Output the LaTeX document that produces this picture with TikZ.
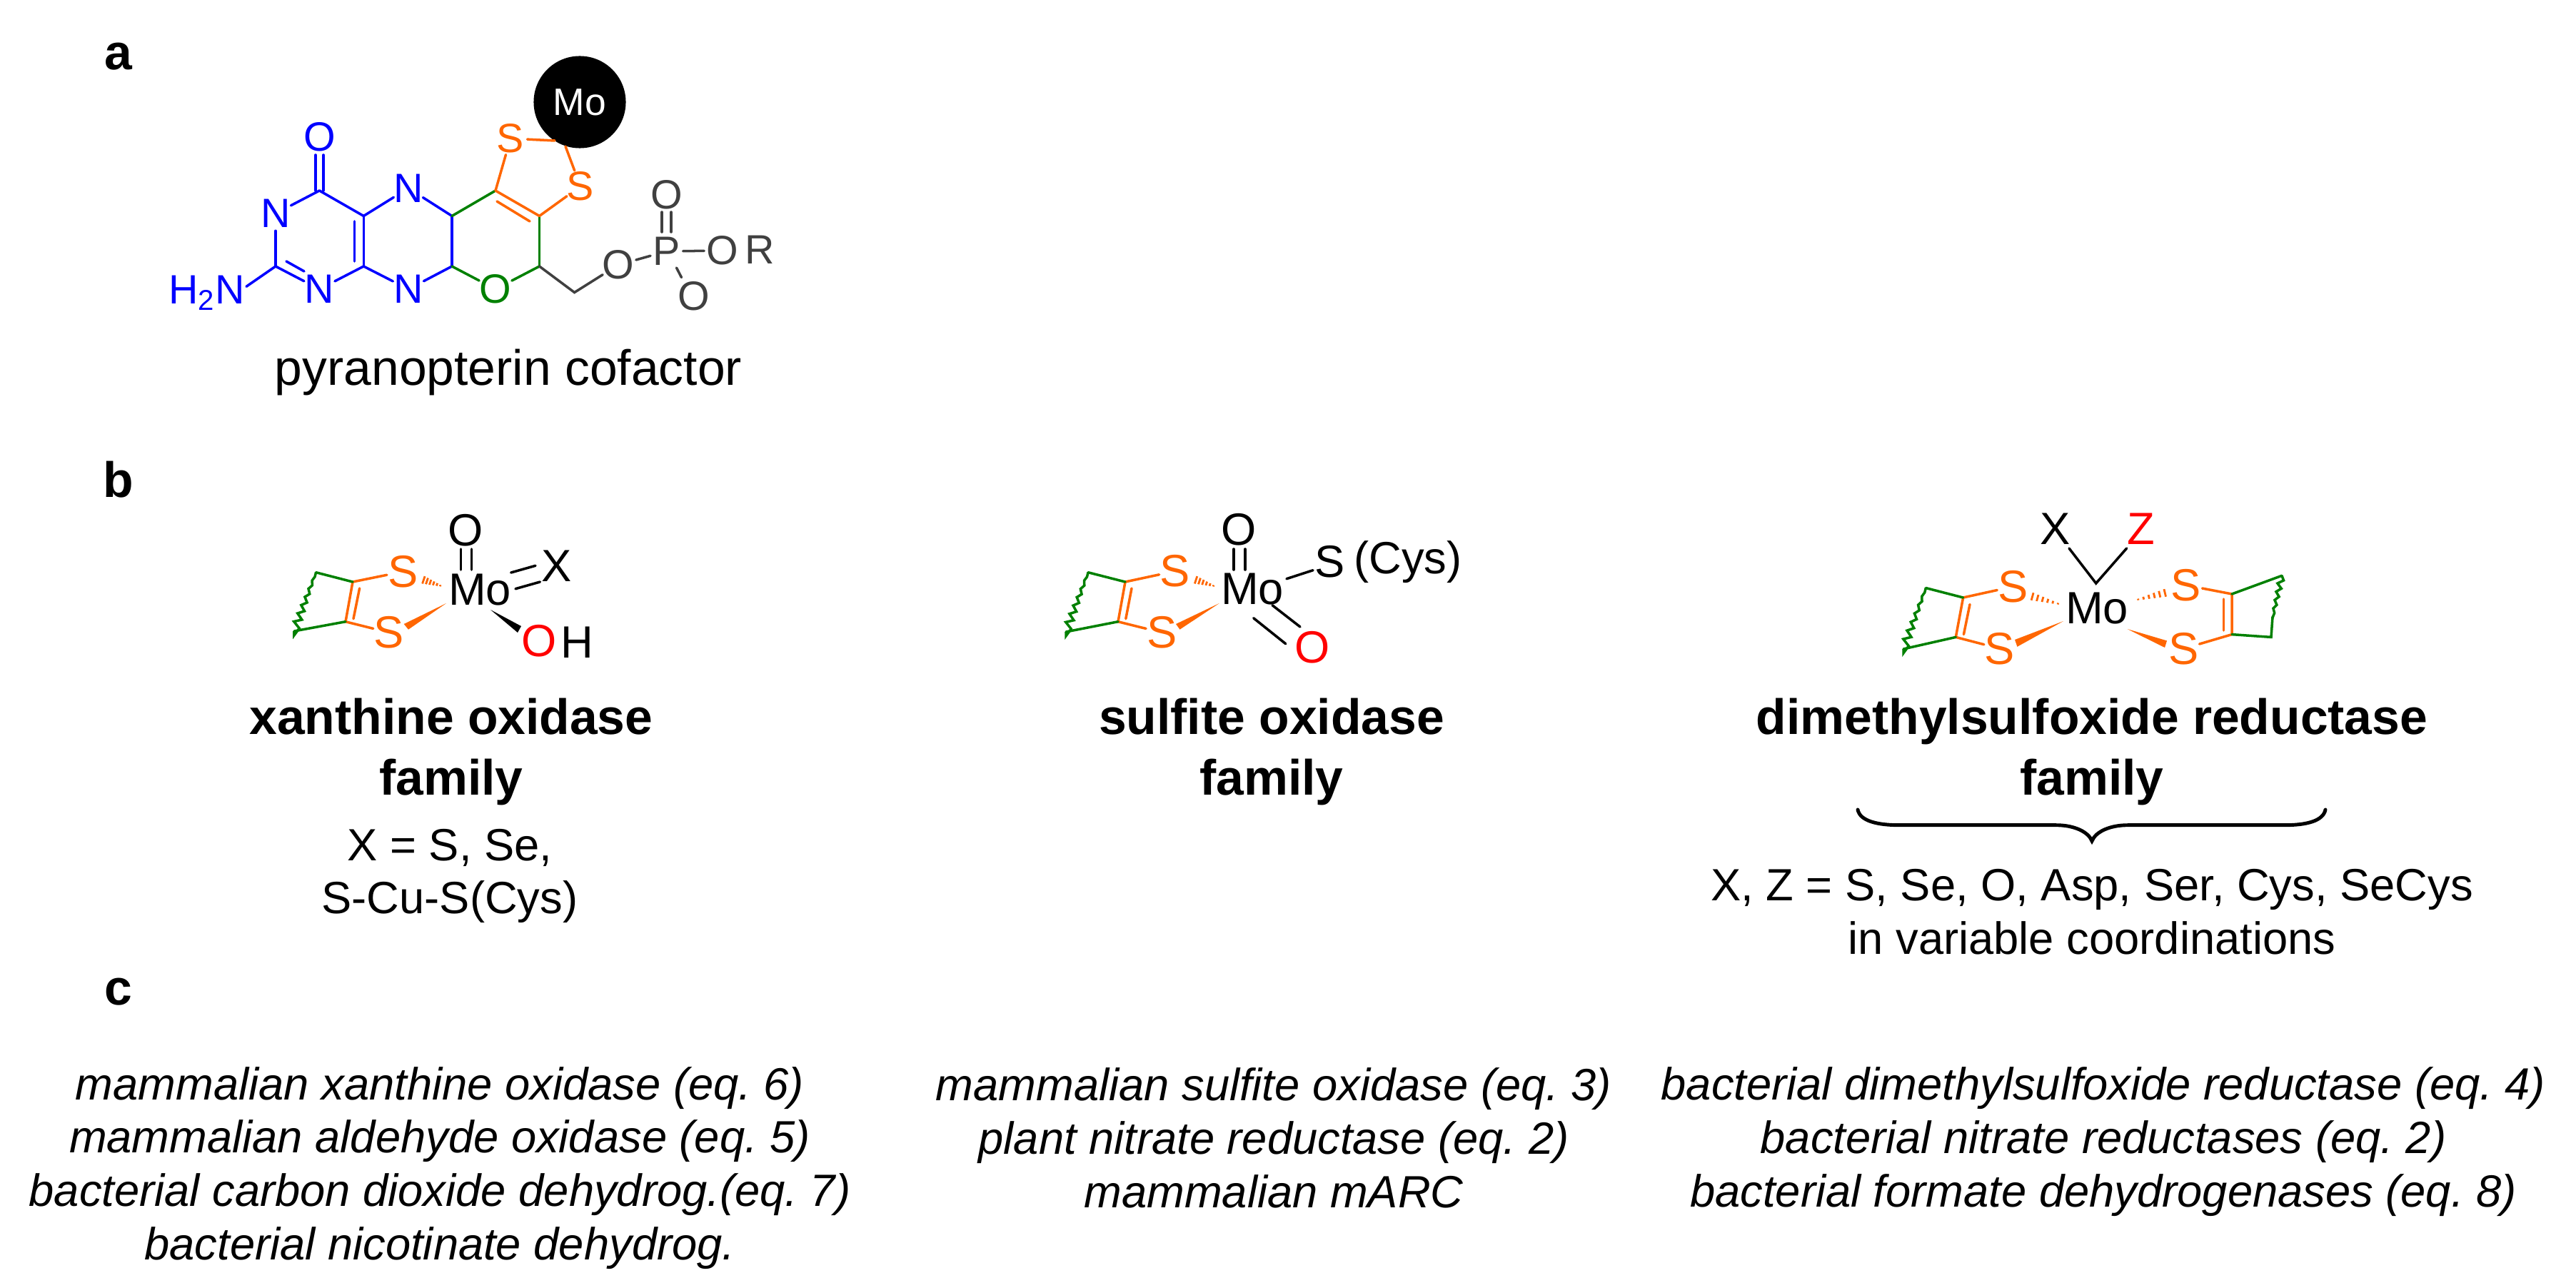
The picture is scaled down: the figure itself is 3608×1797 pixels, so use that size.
\documentclass[tikz,border=0pt]{standalone}
\usepackage{fontspec}
\setmainfont{Liberation Sans}
\usetikzlibrary{calc}
\definecolor{blueN}{HTML}{0000FF}
\definecolor{orangeS}{HTML}{FF6600}
\definecolor{greenC}{HTML}{008000}
\definecolor{redO}{HTML}{FF0000}
\definecolor{darkP}{HTML}{404040}
\tikzset{
  bond/.style={line width=1pt,line cap=round},
  atom/.style={circle,inner sep=0pt,outer sep=-1.2pt,font=\fontsize{16.3}{18}\selectfont},
  atomb/.style={circle,inner sep=0pt,outer sep=-2.2pt,font=\fontsize{18}{20}\selectfont},
  label/.style={inner sep=0pt,font=\fontsize{19.8}{23.9}\selectfont,align=center},
  note/.style={inner sep=0pt,font=\fontsize{18}{21.3}\selectfont,align=center},
  panel/.style={inner sep=0pt,font=\bfseries\fontsize{19.8}{23.9}\selectfont},
  family/.style={inner sep=0pt,font=\bfseries\fontsize{19.8}{23.9}\selectfont,align=center},
  enzyme/.style={inner sep=0pt,font=\itshape\fontsize{18}{21.3}\selectfont,align=center},
}
\newcommand{\hashbond}[2]{\foreach \i in {0,...,5}{\pgfmathsetmacro{\tt}{(\i+0.5)/6}\pgfmathsetmacro{\hw}{0.3+\i*0.25}\draw[orangeS,line width=0.8pt] ($(#1)!\tt!(#2)!\hw pt!90:(#2)$) -- ($(#1)!\tt!(#2)!-\hw pt!90:(#2)$);}}
\newcommand{\zigbond}[5]{\draw[greenC,line width=1pt,line join=miter] (#1) foreach \i in {1,...,#3} {-- ($(#1)!\i/#3!(#2)!{(2*mod(\i,2)-1)*(#4+\i*#5)*1pt}!90:(#2)$)} -- (#2);}
\begin{document}
\begin{tikzpicture}[x=0.01cm,y=-0.01cm]
\frenchspacing
\useasboundingbox (0,0) rectangle (3608,1797);
% --- panel labels
\node[panel] (pa) at (166,79) {a};
\node[panel] (pb) at (166,672) {b};
\node[panel] (pc) at (166,1389) {c};
% --- panel a
\node[fill=black,circle,minimum size=129*0.2845pt,inner sep=0pt,text=white,font=\fontsize{15.2}{17}\selectfont] (mo) at (812,143) {Mo};
\begin{scope}[blueN]
\node[atom] (o1) at (447.4,192) {O};
\node[atom] (n1) at (386,299) {N};
\node[atom] (n3) at (447.4,405) {N};
\node[atom] (n5) at (572,263.6) {N};
\node[atom] (n8) at (572,405) {N};
\node[inner sep=0pt,anchor=base east,font=\fontsize{16.3}{18}\selectfont] (nh2) at (344,425.5) {H\textsubscript{2}N};
\end{scope}
\coordinate (c4) at (447.4,267);
\coordinate (c2) at (386,373);
\coordinate (c4a) at (509.3,302.5);
\coordinate (c8a) at (509.3,373);
\coordinate (c6) at (633,302.5);
\coordinate (c7) at (633,373);
\coordinate (c9) at (755.5,373);
\coordinate (c10) at (755.5,302.5);
\coordinate (c11) at (694,267);
\coordinate (ch2) at (804.6,409.6);
\node[atom,text=greenC] (o2) at (694,405) {O};
\node[atom,text=orangeS] (s1) at (715,194) {S};
\node[atom,text=orangeS] (s2) at (813,261) {S};
\node[atom,text=darkP] (o3) at (866,371) {O};
\node[atom,text=darkP] (p) at (933.4,352) {P};
\node[atom,text=darkP] (o4) at (933.4,273) {O};
\node[atom,text=darkP] (o5) at (1012,351) {O};
\node[atom,text=darkP] (r) at (1064,350) {R};
\node[atom,text=darkP] (o6) at (972,415) {O};
\begin{scope}[bond,blueN]
\draw (442,217) -- (442,267);
\draw (453,217) -- (453,267);
\draw (n1) -- (c4);
\draw (c4) -- (c4a);
\draw (n1) -- (c2);
\draw (c2) -- (n3);
\draw (401,366) -- (426,380);
\draw (c2) -- ($(nh2.east)+(1,-9)$);
\draw (n3) -- (c8a);
\draw (c4a) -- (c8a);
\draw (496.6,310) -- (496.6,366);
\draw (c4a) -- (n5);
\draw (c8a) -- (n8);
\draw (n5) -- (c6);
\draw (n8) -- (c7);
\draw (c6) -- (c7);
\end{scope}
\begin{scope}[bond,greenC]
\draw (c6) -- (c11);
\draw (c10) -- (c9);
\draw (c7) -- (o2);
\draw (o2) -- (c9);
\end{scope}
\begin{scope}[bond,orangeS]
\draw (c11) -- (c10);
\draw (696,282) -- (742,310);
\draw (c11) -- (s1);
\draw (c10) -- (s2);
\draw (s1) -- (777,197);
\draw (s2) -- (792,205);
\end{scope}
\begin{scope}[bond,darkP]
\draw (c9) -- (ch2) -- (o3);
\draw (o3) -- (p);
\draw (p) -- (o5);
\draw (927,297) -- (927,325);
\draw (940,297) -- (940,325);
\draw (947.5,375) -- (954.5,388.6);
\end{scope}
\node[label] (cap) at (712,521) {pyranopterin cofactor};
% --- panel b, xanthine oxidase
\node[atomb] (mox) at (672,826) {Mo};
\node[atomb] (ox) at (652.5,742.7) {O};
\node[atomb] (xx) at (780,792.7) {X};
\node[atomb,text=orangeS] (sx1) at (564.3,800.7) {S};
\node[atomb,text=orangeS] (sx2) at (545,886) {S};
\node[atomb,text=redO] (ohx) at (755.3,897.3) {O};
\node[atomb] (hx) at (808.6,900) {H};
\coordinate (ax1) at (494,815);
\coordinate (ax2) at (484,870.7);
\coordinate (ax3) at (442.5,801.7);
\coordinate (ax4) at (412,884);
\begin{scope}[bond]
\draw (645.7,769) -- (645.7,798);
\draw (660.4,769) -- (660.4,798);
\draw (715.7,802) -- (750,792.3);
\draw (722,824.7) -- (756.4,815);
\fill (687,854) -- (730,877) -- (725,886) -- cycle;
\end{scope}
\begin{scope}[bond,orangeS]
\draw (sx1) -- (ax1) -- (ax2) -- (sx2);
\draw (503.6,824) -- (495,866.7);
\fill (625,845) -- (565.7,874) -- (572,881.7) -- cycle;
\end{scope}
\hashbond{619,821}{591,811.5}
\draw[bond,greenC] (ax1) -- (ax3);
\draw[bond,greenC] (ax4) -- (ax2);
\zigbond{ax3}{ax4}{14}{0.1}{0.11}
\node[family] (fam1) at (632,1053) {xanthine oxidase\\family};
\node[note] (x1) at (630,1227) {X = S, Se,\\S-Cu-S(Cys)};
% --- panel b, sulfite oxidase
\node[atomb] (mos) at (1754,825) {Mo};
\node[atomb] (os) at (1735.5,741.7) {O};
\node[atomb] (ss) at (1863,787) {S};
\node[inner sep=0pt,font=\fontsize{18}{20}\selectfont] (cys) at (1972,787) {(Cys)};
\node[atomb,text=orangeS] (ss1) at (1646,800) {S};
\node[atomb,text=orangeS] (ss2) at (1627.3,886) {S};
\node[atomb,text=redO] (os2) at (1838,906.7) {O};
\coordinate (as1) at (1576,815);
\coordinate (as2) at (1566,870.7);
\coordinate (as3) at (1524,801.7);
\coordinate (as4) at (1493,885);
\begin{scope}[bond]
\draw (1728,769) -- (1728,798);
\draw (1744,769) -- (1744,798);
\draw (1802,810.7) -- (1839,798.7);
\draw (1782,847.7) -- (1821,878);
\draw (1755.7,865.7) -- (1800.7,901.7);
\end{scope}
\begin{scope}[bond,orangeS]
\draw (ss1) -- (as1) -- (as2) -- (ss2);
\draw (1585,824) -- (1576.8,866.7);
\fill (1707.7,845) -- (1647,874) -- (1652.5,881.7) -- cycle;
\end{scope}
\hashbond{1702,821.3}{1672.6,811.5}
\draw[bond,greenC] (as1) -- (as3);
\draw[bond,greenC] (as4) -- (as2);
\zigbond{as3}{as4}{14}{0.1}{0.11}
\node[family] (fam2) at (1781,1053) {sulfite oxidase\\family};
% --- panel b, DMSO reductase
\node[atomb] (mod) at (2937,852) {Mo};
\node[atomb] (xd) at (2879,740.5) {X};
\node[atomb,text=redO] (zd) at (2998.7,740.5) {Z};
\node[atomb,text=orangeS] (sd1) at (2819.6,821.6) {S};
\node[atomb,text=orangeS] (sd2) at (2801,908.5) {S};
\node[atomb,text=orangeS] (sd3) at (3062,819.7) {S};
\node[atomb,text=orangeS] (sd4) at (3058.5,908.5) {S};
\coordinate (apex) at (2935.7,817);
\coordinate (vx) at (2898,768);
\coordinate (vz) at (2978.6,768);
\coordinate (dl1) at (2749.6,837);
\coordinate (dl2) at (2739.3,892.4);
\coordinate (dl3) at (2697.3,823.5);
\coordinate (dl4) at (2666,909);
\coordinate (dr1) at (3126,832);
\coordinate (dr2) at (3126,888.6);
\coordinate (dr3) at (3196,806.3);
\coordinate (dr4) at (3183,864);
\coordinate (dr5) at (3181,892.4);
\draw[bond] (vx) -- (apex) -- (vz);
\begin{scope}[bond,orangeS]
\draw (sd1) -- (dl1) -- (dl2) -- (sd2);
\draw (2759,846.5) -- (2750.4,888.6);
\fill (2890,870) -- (2822,896) -- (2825.4,905.8) -- cycle;
\draw (sd3) -- (dr1) -- (dr2) -- (sd4);
\draw (3114.7,839) -- (3114.7,883);
\fill (2979.5,881) -- (3035,897.4) -- (3032,907) -- cycle;
\end{scope}
\hashbond{2886,846.5}{2843,834.5}
\hashbond{2991,840.5}{3036,829.5}
\draw[bond,greenC] (dl1) -- (dl3);
\draw[bond,greenC] (dl4) -- (dl2);
\zigbond{dl3}{dl4}{14}{0.1}{0.11}
\draw[bond,greenC] (dr1) -- (dr3);
\draw[bond,greenC] (dr4) -- (dr5) -- (dr2);
\zigbond{dr3}{dr4}{10}{1.2}{-0.09}
\node[family] (fam3) at (2930,1053) {dimethylsulfoxide reductase\\family};
\coordinate (brl) at (2602,1134);
\coordinate (brr) at (3257,1134);
\coordinate (brt) at (2930,1178);
\draw[line width=1.4pt,line cap=round] (brl) .. controls (2605,1150) and (2630,1155.7) .. (2660,1155.7) -- (2880,1155.7) .. controls (2905,1155.7) and (2925,1165) .. (brt) .. controls (2935,1165) and (2955,1155.7) .. (2980,1155.7) -- (3200,1155.7) .. controls (3230,1155.7) and (3254,1150) .. (brr);
\node[note] (x3) at (2930,1277) {X, Z = S, Se, O, Asp, Ser, Cys, SeCys\\in variable coordinations};
% --- panel c
\node[enzyme] (l1) at (616,1636) {mammalian xanthine oxidase (eq. 6)\\mammalian aldehyde oxidase (eq. 5)\\bacterial carbon dioxide dehydrog.(eq. 7)\\bacterial nicotinate dehydrog.};
\node[enzyme] (l2) at (1784,1594) {mammalian sulfite oxidase (eq. 3)\\plant nitrate reductase (eq. 2)\\mammalian mARC};
\node[enzyme] (l3) at (2946,1599) {bacterial dimethylsulfoxide reductase (eq. 4)\\bacterial nitrate reductases (eq. 2)\\bacterial formate dehydrogenases (eq. 8)};
\end{tikzpicture}
\end{document}
